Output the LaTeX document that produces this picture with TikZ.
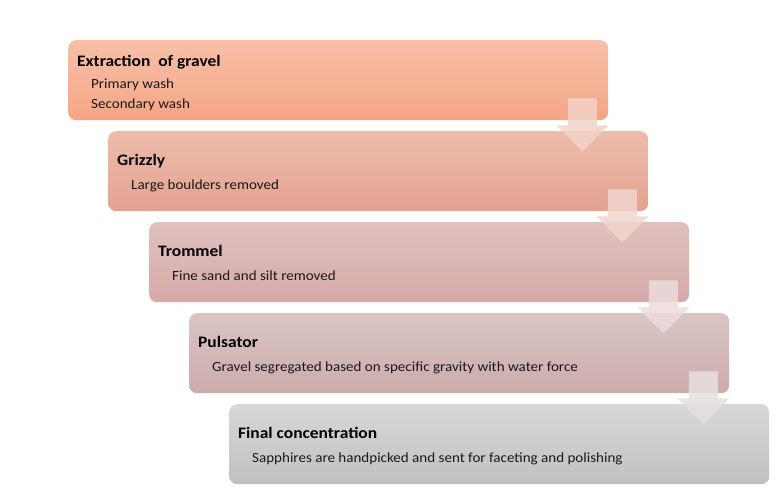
\documentclass[tikz,border=0pt]{standalone}
\usepackage{fontspec}
\setmainfont{Carlito}
\newfontfamily\ttlfont[FakeStretch=1.09]{Carlito}
\newfontfamily\subfont[FakeStretch=1.075]{Carlito}
\usetikzlibrary{calc}
\definecolor{c1t}{RGB}{248,192,168}\definecolor{c1b}{RGB}{244,165,133}
\definecolor{c2t}{RGB}{238,188,171}\definecolor{c2b}{RGB}{227,162,145}
\definecolor{c3t}{RGB}{224,193,191}\definecolor{c3b}{RGB}{213,169,167}
\definecolor{c4t}{RGB}{218,197,197}\definecolor{c4b}{RGB}{204,171,171}
\definecolor{c5t}{RGB}{216,216,216}\definecolor{c5b}{RGB}{192,192,192}
\definecolor{a1}{RGB}{242,212,200}\definecolor{a2}{RGB}{240,214,206}
\definecolor{a3}{RGB}{236,220,218}\definecolor{a4}{RGB}{230,224,224}
\tikzset{
  stagebox/.style={rectangle, rounded corners=8pt, minimum width=540pt, minimum height=80pt, inner sep=0pt, draw=none, anchor=north west},
  ttl/.style={font=\ttlfont\fontsize{16pt}{19pt}\selectfont\bfseries, anchor=base west, inner sep=0pt, text=black},
  sub/.style={font=\subfont\fontsize{14pt}{17pt}\selectfont, anchor=base west, inner sep=0pt, text=black!90},
  downarrow/.style={opacity=0.85, draw=none}
}
\newcommand{\blockarrow}[2]{%
  \fill[downarrow, fill=#2]
    ($(#1.south east)+(-40.5,-22)$) -- ($(#1.south east)+(-11.5,-22)$) --
    ($(#1.south east)+(-11.5,5)$) -- ($(#1.south east)+(0,5)$) --
    ($(#1.south east)+(-26,31)$) -- ($(#1.south east)+(-52,5)$) --
    ($(#1.south east)+(-40.5,5)$) -- cycle;}
\begin{document}
\begin{tikzpicture}[x=1pt,y=-1pt]
\useasboundingbox[fill=white] (0,0) rectangle (778,503);
\node[stagebox, top color=c1t, bottom color=c1b] (b1) at (68,40) {};
\node[stagebox, top color=c2t, bottom color=c2b] (b2) at (108,131) {};
\node[stagebox, top color=c3t, bottom color=c3b] (b3) at (149,222) {};
\node[stagebox, top color=c4t, bottom color=c4b] (b4) at (189,313) {};
\node[stagebox, top color=c5t, bottom color=c5b] (b5) at (229,404) {};
% texts
\node[ttl] (t1) at ($(b1.north west)+(9,26.7)$) {Extraction\ \ of gravel};
\node[sub] (s1a) at ($(b1.north west)+(23,48.3)$) {Primary wash};
\node[sub] (s1b) at ($(b1.north west)+(23,68)$) {Secondary wash};
\node[ttl] (t2) at ($(b2.north west)+(9,34.3)$) {Grizzly};
\node[sub] (s2) at ($(b2.north west)+(23,58)$) {Large boulders removed};
\node[ttl] (t3) at ($(b3.north west)+(9,34.3)$) {Trommel};
\node[sub] (s3) at ($(b3.north west)+(23,58)$) {Fine sand and silt removed};
\node[ttl] (t4) at ($(b4.north west)+(9,34.3)$) {Pulsator};
\node[sub] (s4) at ($(b4.north west)+(23,58)$) {Gravel segregated based on specific gravity with water force};
\node[ttl] (t5) at ($(b5.north west)+(9,34.3)$) {Final concentration};
\node[sub] (s5) at ($(b5.north west)+(23,58)$) {Sapphires are handpicked and sent for faceting and polishing};
% arrows
\blockarrow{b1}{a1}
\blockarrow{b2}{a2}
\blockarrow{b3}{a3}
\blockarrow{b4}{a4}
\end{tikzpicture}
\end{document}
